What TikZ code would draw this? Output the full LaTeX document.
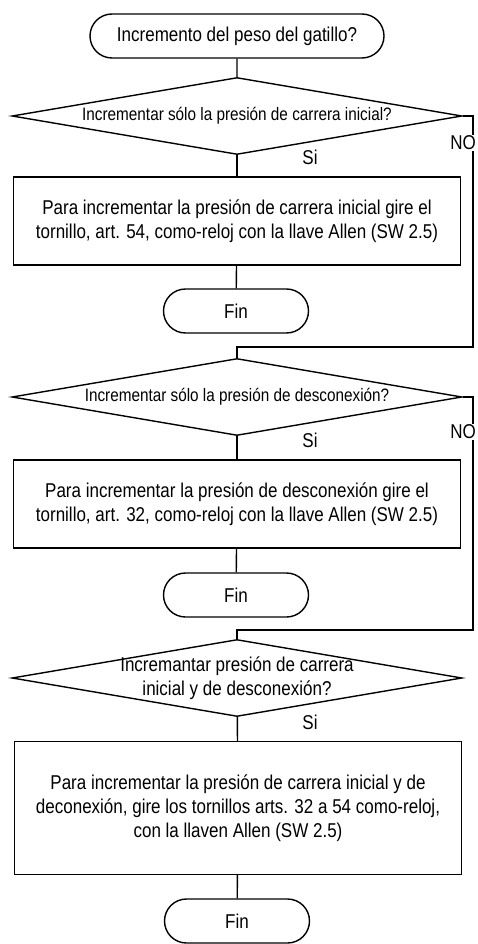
\documentclass[tikz,border=0pt]{standalone}
\usepackage{fontspec}
\setmainfont{Liberation Sans}[FakeStretch=0.85]
\usetikzlibrary{shapes.geometric,shapes.misc}
\tikzset{
    terminal/.style={draw, rounded rectangle, line width=1.4pt, minimum height=44pt, inner sep=0pt},
    decision/.style={draw, diamond, line width=1.4pt, minimum width=450pt, minimum height=77pt, inner sep=0pt},
    question/.style={align=center, inner sep=0pt},
    action/.style={draw, rectangle, line width=1.4pt, minimum width=447pt, inner sep=0pt, align=center},
    flow/.style={line width=1.4pt},
    answer/.style={inner sep=1pt}
}

\begin{document}
\begin{tikzpicture}[x=1pt, y=-1pt, font=\fontsize{20}{24}\selectfont]
    \useasboundingbox (0,0) rectangle (477,944);
    \node[terminal, minimum width=294pt] (start) at (237,36) {Incremento del peso del gatillo?};
    \node[decision] (q1) at (237,116) {};
    \node[question, font=\fontsize{18}{24}\selectfont] (q1text) at (q1) {Incrementar sólo la presión de carrera inicial?};
    \node[action, minimum height=88pt] (a1) at (237,221) {Para incrementar la presión de carrera inicial gire el\\tornillo, art. 54, como-reloj con la llave Allen (SW 2.5)};
    \node[terminal, minimum width=145pt] (end1) at (236,311) {Fin};
    \coordinate (r1) at (473,347);
    \coordinate (j1) at (237,347);
    \node[decision] (q2) at (237,397) {};
    \node[question, font=\fontsize{18}{24}\selectfont] (q2text) at (q2) {Incrementar sólo la presión de desconexión?};
    \node[action, minimum height=88pt] (a2) at (237,504) {Para incrementar la presión de desconexión gire el\\tornillo, art. 32, como-reloj con la llave Allen (SW 2.5)};
    \node[terminal, minimum width=145pt] (end2) at (236,595) {Fin};
    \coordinate (r2) at (473,630);
    \coordinate (j2) at (237,630);
    \node[decision] (q3) at (237,678) {};
    \node[question] (q3text) at (q3) {Incremantar presión de carrera\\inicial y de desconexión?};
    \node[action, minimum height=133pt] (a3) at (238,808) {Para incrementar la presión de carrera inicial y de\\deconexión, gire los tornillos arts. 32 a 54 como-reloj,\\con la llaven Allen (SW 2.5)};
    \node[terminal, minimum width=145pt] (end3) at (237,921) {Fin};

    \draw[flow] (start) -- (q1);
    \draw[flow] (q1) -- (a1);
    \draw[flow] (a1) -- (end1);
    \draw[flow] (q1.east) -| (r1) -- (j1) -- (q2);
    \draw[flow] (q2) -- (a2);
    \draw[flow] (a2) -- (end2);
    \draw[flow] (q2.east) -| (r2) -- (j2) -- (q3);
    \draw[flow] (q3) -- (a3);
    \draw[flow] (a3) -- (end3);

    \node[answer] (si1) at (310,157) {Si};
    \node[answer] (si2) at (310,440) {Si};
    \node[answer] (si3) at (310,722) {Si};
    \node[answer, fill=white, anchor=east] (no1) at (477,143) {NO};
    \node[answer, fill=white, anchor=east] (no2) at (477,432) {NO};
\end{tikzpicture}
\end{document}
